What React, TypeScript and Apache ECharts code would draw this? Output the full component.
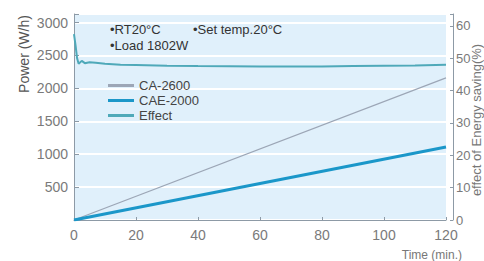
import React, { useEffect, useRef } from "react";
import * as echarts from "echarts";

const xTicks = [0, 20, 40, 60, 80, 100, 120];
const caTime = [0, 120];
const caPower = [0, 2160];
const caeTime = [0, 120];
const caePower = [0, 1110];
const effectTime = [0, 0.5, 1, 1.5, 2.5, 3.5, 5, 7, 10, 15, 20, 30, 40, 60, 80, 90, 100, 110, 120];
const effectPct = [57.5, 54, 50, 48.3, 49.2, 48.5, 48.8, 48.6, 48.3, 48.0, 47.9, 47.7, 47.6, 47.5, 47.5, 47.6, 47.7, 47.8, 48.0];
const legendNames = ["CA-2600", "CAE-2000", "Effect"];
const notes = ["•RT20°C", "•Set temp.20°C", "•Load 1802W"];

const FONT = "'Liberation Sans Narrow', 'Liberation Sans', Arial, sans-serif";
const FONT2 = "'Liberation Sans', Arial, sans-serif";

export default function App() {
  const ref = useRef<HTMLDivElement>(null);
  useEffect(() => {
    document.body.style.margin = "0";
    const chart = echarts.init(ref.current!, null, { renderer: "svg" });
    const zip = (a: number[], b: number[]) => a.map((v, i) => [v, b[i]]);
    chart.setOption({
      animation: false,
      backgroundColor: "#ffffff",
      grid: {
        left: 74,
        right: 38,
        top: 14,
        bottom: 40,
        show: true,
        backgroundColor: "#e0f0fb",
        borderWidth: 0,
      },
      legend: {
        orient: "vertical",
        left: 103,
        top: 74,
        itemWidth: 26,
        itemHeight: 3,
        itemGap: 2,
        icon: "rect",
        textStyle: { fontFamily: FONT2, fontSize: 13, color: "#444" },
        data: legendNames.map((n) => ({ name: n, icon: "rect" })),
      },
      xAxis: {
        type: "value",
        min: 0,
        max: 120,
        interval: 20,
        axisLine: { show: true, lineStyle: { color: "#8d9aa6", width: 1 } },
        axisTick: { show: true, inside: true, length: 3, lineStyle: { color: "#8d9aa6" } },
        axisLabel: { fontFamily: FONT, fontSize: 14, color: "#7a7a7a", margin: 8 },
        splitLine: { show: false },
        name: "Time (min.)",
        nameLocation: "end",
        nameGap: 0,
        nameTextStyle: {
          fontFamily: FONT2,
          fontSize: 12,
          color: "#777",
          align: "right",
          verticalAlign: "top",
          padding: [29, -16, 0, 0],
        },
      },
      yAxis: [
        {
          type: "value",
          min: 0,
          max: 3130,
          interval: 500,
          axisLine: { show: true, lineStyle: { color: "#8d9aa6" } },
          axisTick: { show: true, inside: true, length: 5, lineStyle: { color: "#8d9aa6" } },
          axisLabel: {
            fontFamily: FONT,
            fontSize: 14,
            color: "#7a7a7a",
            margin: 6,
            formatter: (v: number) => (v % 500 === 0 && v > 0 ? String(v) : ""),
          },
          splitLine: { show: true, lineStyle: { color: "#ffffff", width: 2 } },
        },
        {
          type: "value",
          min: 0,
          max: 63.7,
          interval: 10,
          position: "right",
          offset: 7,
          axisLine: { show: true, lineStyle: { color: "#8d9aa6" } },
          axisTick: { show: true, inside: true, length: 3, lineStyle: { color: "#8d9aa6" } },
          axisLabel: {
            fontFamily: FONT,
            fontSize: 13,
            color: "#7a7a7a",
            margin: 3,
            formatter: (v: number) => (v % 10 === 0 ? String(v) : ""),
          },
          splitLine: { show: false },
        },
      ],
      series: [
        {
          name: "CA-2600",
          type: "line",
          data: zip(caTime, caPower),
          showSymbol: false,
          lineStyle: { color: "#9ca6b6", width: 1.2 },
          itemStyle: { color: "#9ca6b6" },
          z: 3,
        },
        {
          name: "CAE-2000",
          type: "line",
          data: zip(caeTime, caePower),
          showSymbol: false,
          lineStyle: { color: "#1b97c9", width: 3 },
          itemStyle: { color: "#1b97c9" },
          z: 4,
        },
        {
          name: "Effect",
          type: "line",
          yAxisIndex: 1,
          data: zip(effectTime, effectPct),
          showSymbol: false,
          lineStyle: { color: "#4fa9b9", width: 2 },
          itemStyle: { color: "#4fa9b9" },
          z: 5,
        },
      ],
      graphic: [
        {
          type: "text",
          left: 110,
          top: 23,
          style: { text: notes[0], fontFamily: FONT2, fontSize: 13, fill: "#333" },
        },
        {
          type: "text",
          left: 193,
          top: 23,
          style: { text: notes[1], fontFamily: FONT2, fontSize: 13, fill: "#333" },
        },
        {
          type: "text",
          left: 110,
          top: 39,
          style: { text: notes[2], fontFamily: FONT2, fontSize: 13, fill: "#333" },
        },
        {
          type: "text",
          x: 24,
          y: 54,
          rotation: Math.PI / 2,
          style: {
            text: "Power (W/h)",
            fontFamily: FONT2,
            fontSize: 14,
            fill: "#555",
            align: "center",
            verticalAlign: "middle",
          },
        },
        {
          type: "text",
          x: 476,
          y: 120,
          rotation: Math.PI / 2,
          style: {
            text: "effect of Energy saving(%)",
            fontFamily: FONT2,
            fontSize: 13,
            fill: "#777",
            align: "center",
            verticalAlign: "middle",
          },
        },
      ],
    });
    return () => chart.dispose();
  }, []);
  return (
    <div
      ref={ref}
      style={{ position: "fixed", left: 0, top: 0, width: 484, height: 261 }}
    />
  );
}
